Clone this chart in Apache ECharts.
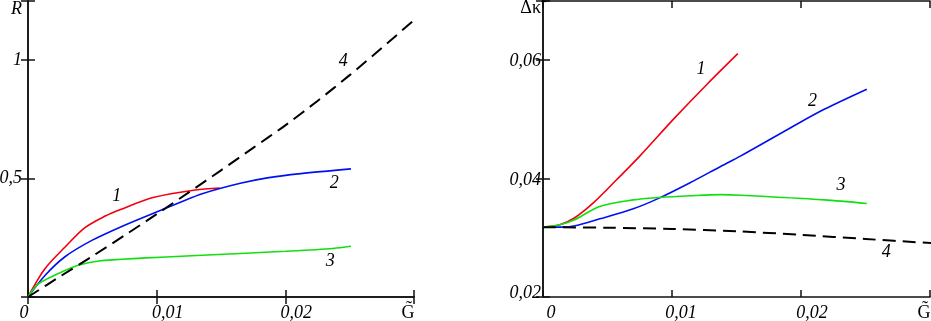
<!DOCTYPE html>
<html>
<head>
<meta charset="utf-8">
<script src="https://cdn.jsdelivr.net/npm/echarts@6/dist/echarts.min.js"></script>
<style>
html, body { margin: 0; padding: 0; background: #fff; }
#chart { width: 931px; height: 321px; }
</style>
</head>
<body>
<div id="chart"></div>
<script>
// left panel: R versus G~
var rCurve1X = [0, 0.0013, 0.0029, 0.0044, 0.006, 0.0072, 0.0098, 0.013, 0.0149];
var rCurve1Y = [0, 0.118, 0.212, 0.292, 0.342, 0.37, 0.421, 0.452, 0.46];
var rCurve2X = [0, 0.0013, 0.0029, 0.005, 0.0072, 0.0098, 0.0117, 0.0136, 0.0165, 0.0186, 0.0212, 0.0251];
var rCurve2Y = [0, 0.09, 0.171, 0.24, 0.296, 0.355, 0.397, 0.437, 0.48, 0.503, 0.521, 0.541];
var rCurve3X = [0, 0.0008, 0.0024, 0.0039, 0.0055, 0.0088, 0.0127, 0.0169, 0.02, 0.0237, 0.0251];
var rCurve3Y = [0, 0.055, 0.1, 0.134, 0.152, 0.164, 0.174, 0.185, 0.193, 0.205, 0.214];
var rCurve4X = [0, 0.0025, 0.005, 0.0075, 0.01, 0.0125, 0.015, 0.0175, 0.02, 0.0225, 0.025, 0.0275, 0.0301];
var rCurve4Y = [0, 0.087, 0.172, 0.26, 0.35, 0.442, 0.535, 0.63, 0.725, 0.828, 0.937, 1.052, 1.174];

// right panel: delta kappa~ versus G~
var kCurve1X = [0, 0.0013, 0.0024, 0.0039, 0.0057, 0.0075, 0.0101, 0.0127, 0.0151];
var kCurve1Y = [0.0318, 0.0322, 0.0333, 0.0359, 0.0398, 0.0438, 0.05, 0.0559, 0.0611];
var kCurve2X = [0, 0.0013, 0.0024, 0.0044, 0.007, 0.009, 0.0114, 0.0138, 0.0153, 0.0192, 0.0218, 0.0251];
var kCurve2Y = [0.0318, 0.0318, 0.032, 0.0332, 0.0349, 0.0367, 0.0393, 0.0421, 0.0438, 0.0486, 0.0517, 0.0551];
var kCurve3X = [0, 0.0013, 0.0024, 0.0044, 0.007, 0.009, 0.0114, 0.0138, 0.0153, 0.0179, 0.0218, 0.0251];
var kCurve3Y = [0.0318, 0.0322, 0.033, 0.0353, 0.0364, 0.0368, 0.0371, 0.0373, 0.0372, 0.0369, 0.0364, 0.0358];
var kCurve4X = [0, 0.005, 0.01, 0.015, 0.02, 0.025, 0.0301];
var kCurve4Y = [0.0318, 0.0317, 0.0315, 0.0311, 0.0305, 0.0298, 0.0291];

// tick labels
var xTickValues = [0, 0.01, 0.02, 0.03];
var xTickLabels = ['0', '0,01', '0,02', 'G\u0303'];
var rTickValues = [0, 0.5, 1, 1.25];
var rTickLabels = ['', '0,5', '1', 'R'];
var kTickValues = [0.02, 0.04, 0.06, 0.07];
var kTickLabels = ['0,02', '0,04', '0,06', '\u0394\u03ba\u0303'];

// curve numbers and where they sit (data units)
var curveNames = ['1', '2', '3', '4'];
var rNameAt = [[0.0069, 0.425], [0.0238, 0.482], [0.0235, 0.15], [0.0245, 0.997]];
var kNameAt = [[0.01225, 0.0585], [0.0209, 0.0531], [0.0231, 0.0389], [0.0266, 0.0276]];

var colors = ['#f00010', '#0010f0', '#10e010', '#000'];
var serif = 'Liberation Serif';

function zip(xs, ys) {
    return xs.map(function (x, i) { return [x, ys[i]]; });
}

function txt(pad, upright) {
    return {
        fontFamily: serif,
        fontStyle: upright ? 'normal' : 'italic',
        fontSize: 18,
        color: '#000',
        padding: pad
    };
}

function tickFormatter(values, labels, styles) {
    return function (v) {
        for (var i = 0; i < values.length; i++) {
            if (Math.abs(v - values[i]) < 1e-9) {
                return labels[i] ? '{' + styles[i] + '|' + labels[i] + '}' : '';
            }
        }
        return '';
    };
}

var frameLine = { show: true, lineStyle: { color: '#111', width: 1.5 } };
var frameTick = { show: true, inside: true, length: 7, lineStyle: { color: '#111', width: 1.5 } };

function mirrorAxis(gridIndex, position, min, max, interval) {
    return {
        type: 'value', gridIndex: gridIndex, position: position,
        min: min, max: max, interval: interval,
        axisLine: frameLine, axisTick: frameTick,
        axisLabel: { show: false }, splitLine: { show: false }
    };
}

function curve(xs, ys, idx, n, nameAt, dashed) {
    return {
        type: 'line',
        xAxisIndex: idx, yAxisIndex: idx,
        data: zip(xs, ys),
        smooth: 0.3,
        symbol: 'none',
        silent: true,
        lineStyle: {
            color: colors[n],
            width: dashed ? 2 : 1.6,
            type: dashed ? [13, 7] : 'solid'
        },
        markPoint: {
            symbol: 'circle',
            symbolSize: 1,
            itemStyle: { color: 'rgba(0,0,0,0)' },
            label: {
                show: true, position: 'inside', formatter: curveNames[n],
                fontFamily: serif, fontStyle: 'italic', fontSize: 18, color: '#000'
            },
            data: [{ coord: nameAt[n] }]
        }
    };
}

var chart = echarts.init(document.getElementById('chart'), null, { renderer: 'canvas' });

var labelFont = { fontFamily: serif, fontStyle: 'italic', fontSize: 18, color: '#000' };

var option = {
    animation: false,
    backgroundColor: '#fff',
    grid: [
        { left: 28, top: 1, width: 386, height: 296, outerBoundsMode: 'none' },
        { left: 543, top: 1, width: 387, height: 296, outerBoundsMode: 'none' }
    ],
    xAxis: [
        {
            type: 'value', gridIndex: 0, position: 'bottom',
            min: 0, max: 0.03, interval: 0.01,
            axisLine: frameLine, axisTick: frameTick, splitLine: { show: false },
            axisLabel: Object.assign({
                margin: 7, showMinLabel: true, showMaxLabel: true,
                formatter: tickFormatter(xTickValues, xTickLabels, ['z', 'n', 'n', 'g']),
                rich: { z: txt([0, 8, 0, 0]), n: txt([0, 0, 0, 22]), g: txt([0, 12, 0, 0], true) }
            }, labelFont)
        },
        mirrorAxis(0, 'top', 0, 0.03, 0.01),
        {
            type: 'value', gridIndex: 1, position: 'bottom',
            min: 0, max: 0.03, interval: 0.01,
            axisLine: frameLine, axisTick: frameTick, splitLine: { show: false },
            axisLabel: Object.assign({
                margin: 7, showMinLabel: true, showMaxLabel: true,
                formatter: tickFormatter(xTickValues, xTickLabels, ['z', 'a', 'n', 'g']),
                rich: { z: txt([0, 0, 0, 16]), a: txt([0, 0, 0, 18]), n: txt([0, 0, 0, 22]), g: txt([0, 12, 0, 0], true) }
            }, labelFont)
        },
        mirrorAxis(1, 'top', 0, 0.03, 0.01)
    ],
    yAxis: [
        {
            type: 'value', gridIndex: 0, position: 'left',
            min: 0, max: 1.25, interval: 0.5,
            axisLine: frameLine, axisTick: frameTick, splitLine: { show: false },
            axisLabel: Object.assign({
                margin: 6, showMinLabel: true, showMaxLabel: true,
                formatter: tickFormatter(rTickValues, rTickLabels, ['n', 'n', 'n', 't']),
                rich: { n: txt([0, 0, 0, 0]), t: txt([16, 0, 0, 0]) }
            }, labelFont)
        },
        mirrorAxis(0, 'right', 0, 1.25, 0.5),
        {
            type: 'value', gridIndex: 1, position: 'left',
            min: 0.02, max: 0.07, interval: 0.02,
            axisLine: frameLine, axisTick: frameTick, splitLine: { show: false },
            axisLabel: Object.assign({
                margin: 2, showMinLabel: true, showMaxLabel: true,
                formatter: tickFormatter(kTickValues, kTickLabels, ['b', 'm', 'm', 't']),
                rich: { b: txt([0, 0, 8, 0]), m: txt([3, 0, 0, 0]), t: txt([14, 0, 0, 0], true) }
            }, labelFont)
        },
        mirrorAxis(1, 'right', 0.02, 0.07, 0.02)
    ],
    series: [
        curve(rCurve1X, rCurve1Y, 0, 0, rNameAt, false),
        curve(rCurve2X, rCurve2Y, 0, 1, rNameAt, false),
        curve(rCurve3X, rCurve3Y, 0, 2, rNameAt, false),
        curve(rCurve4X, rCurve4Y, 0, 3, rNameAt, true),
        curve(kCurve1X, kCurve1Y, 2, 0, kNameAt, false),
        curve(kCurve2X, kCurve2Y, 2, 1, kNameAt, false),
        curve(kCurve3X, kCurve3Y, 2, 2, kNameAt, false),
        curve(kCurve4X, kCurve4Y, 2, 3, kNameAt, true)
    ]
};

chart.setOption(option);
</script>
</body>
</html>
